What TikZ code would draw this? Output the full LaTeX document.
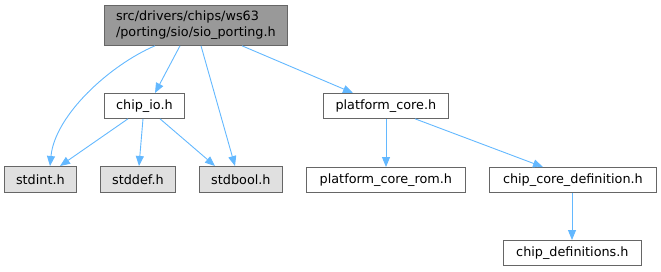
\documentclass[tikz,border=0pt]{standalone}
\usepackage{fontspec}
\setmainfont{DejaVu Sans}
\usetikzlibrary{arrows.meta,calc}
\definecolor{edgeblue}{HTML}{63B8FF}
\definecolor{boxline}{HTML}{666666}
\definecolor{mainfill}{HTML}{999999}
\definecolor{sysfill}{HTML}{E0E0E0}
\tikzset{
  box/.style={draw=boxline, line width=0.8pt, inner sep=0pt, anchor=north west, font=\fontsize{12.8}{16}\selectfont},
  edge/.style={draw=edgeblue, line width=0.9pt, -{Triangle[length=10pt,width=8pt]}},
}
\begin{document}
\begin{tikzpicture}[x=1pt,y=-1pt]
\useasboundingbox (0,0) rectangle (661,271);
\node[box, fill=mainfill, minimum width=183pt, minimum height=40pt, align=left] (main) at (104,5) {src/drivers/chips/ws63\\/porting/sio/sio\_porting.h};
\node[box, minimum width=80pt, minimum height=25pt] (chipio) at (104,93) {chip\_io.h};
\node[box, minimum width=125pt, minimum height=25pt] (pcore) at (323,93) {platform\_core.h};
\node[box, fill=sysfill, minimum width=72pt, minimum height=26pt] (stdint) at (4,166) {stdint.h};
\node[box, fill=sysfill, minimum width=75pt, minimum height=26pt] (stddef) at (100,166) {stddef.h};
\node[box, fill=sysfill, minimum width=83pt, minimum height=26pt] (stdbool) at (199,166) {stdbool.h};
\node[box, minimum width=159pt, minimum height=25pt] (pcrom) at (306,167) {platform\_core\_rom.h};
\node[box, minimum width=167pt, minimum height=25pt] (ccdef) at (489,167) {chip\_core\_definition.h};
\node[box, minimum width=138pt, minimum height=25pt] (cdefs) at (503,240) {chip\_definitions.h};

\draw[edge] ($(main.south west)+(76,0)$) -- ($(chipio.north west)+(51,0)$);
\draw[edge] ($(main.south west)+(51,0)$) .. controls (110,65) and (55,115) .. ($(stdint.north west)+(46,0)$);
\draw[edge] ($(main.south west)+(97,0)$) -- ($(stdbool.north west)+(36,0)$);
\draw[edge] ($(main.south west)+(138,0)$) -- ($(pcore.north west)+(30,0)$);
\draw[edge] ($(chipio.south west)+(24,0)$) -- ($(stdint.north west)+(56,0)$);
\draw[edge] ($(chipio.south west)+(39,0)$) -- ($(stddef.north west)+(39,0)$);
\draw[edge] ($(chipio.south west)+(56,0)$) -- ($(stdbool.north west)+(16,0)$);
\draw[edge] ($(pcore.south west)+(63,0)$) -- ($(pcrom.north west)+(80,0)$);
\draw[edge] ($(pcore.south west)+(92,0)$) -- ($(ccdef.north west)+(54,0)$);
\draw[edge] ($(ccdef.south west)+(83,0)$) -- ($(cdefs.north west)+(69,0)$);
\end{tikzpicture}
\end{document}
